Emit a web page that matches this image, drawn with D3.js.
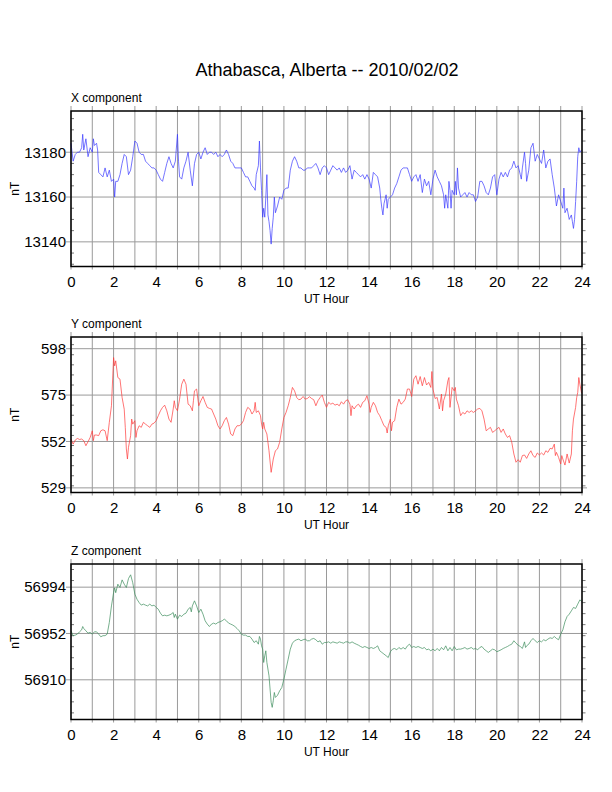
<!DOCTYPE html>
<html>
<head>
<meta charset="utf-8">
<script src="https://cdn.jsdelivr.net/npm/d3@7"></script>
<style>
  html, body { margin: 0; padding: 0; background: #fff; }
  svg { display: block; font-family: "Liberation Sans", Arial, Helvetica, sans-serif; }
</style>
</head>
<body>
<svg id="chart" width="612" height="792"></svg>
<script>
// ---------------- DATA ----------------
const chartTitle = "Athabasca, Alberta -- 2010/02/02";
const panelTitles = ["X component", "Y component", "Z component"];
const hourTicks = [0, 2, 4, 6, 8, 10, 12, 14, 16, 18, 20, 22, 24];
const hourGrid = d3.range(0, 25, 1);

const xDomain = [13129, 13198.4];
const yDomain = [526.7, 603.8];
const zDomain = [56874, 57015];

const xTicks = [13140, 13160, 13180];
const yTicks = [529, 552, 575, 598];
const zTicks = [56910, 56952, 56994];
const minorSteps = [5, 5, 10];

// [UT hour, nT]
const xComponent = [[0,13184],[0.1,13176],[0.2,13179],[0.3,13180],[0.4,13180],[0.5,13182],[0.55,13188],[0.6,13181],[0.7,13186],[0.8,13178],[0.9,13182],[1.0,13180],[1.05,13186],[1.1,13183],[1.2,13184],[1.25,13181],[1.3,13171],[1.4,13170],[1.5,13169],[1.6,13173],[1.7,13169],[1.8,13172],[1.9,13167],[2.0,13168],[2.05,13160],[2.1,13167],[2.2,13167],[2.3,13170],[2.4,13175],[2.5,13179],[2.6,13178],[2.7,13170],[2.8,13172],[2.9,13178],[3.0,13185],[3.1,13184],[3.2,13180],[3.3,13179],[3.4,13179],[3.5,13176],[3.6,13175],[3.7,13174],[3.8,13173],[3.9,13173],[4.0,13172],[4.1,13170],[4.2,13168],[4.3,13167],[4.4,13171],[4.5,13175],[4.6,13178],[4.7,13175],[4.8,13173],[4.9,13176],[5.0,13188],[5.05,13176],[5.1,13169],[5.2,13168],[5.3,13173],[5.4,13176],[5.5,13180],[5.6,13172],[5.7,13165],[5.8,13175],[5.9,13179],[6.0,13180],[6.1,13177],[6.2,13180],[6.3,13182],[6.4,13179],[6.5,13180],[6.6,13180],[6.7,13179],[6.8,13180],[6.9,13178],[7.0,13179],[7.1,13178],[7.2,13179],[7.3,13181],[7.4,13179],[7.5,13176],[7.6,13175],[7.7,13173],[7.8,13173],[7.9,13173],[8.0,13173],[8.1,13171],[8.2,13169],[8.3,13169],[8.4,13167],[8.5,13165],[8.6,13164],[8.65,13163],[8.7,13170],[8.8,13174],[8.85,13185],[8.9,13173],[8.95,13163],[9.0,13151],[9.05,13155],[9.1,13151],[9.15,13160],[9.2,13170],[9.25,13152],[9.3,13149],[9.35,13145],[9.4,13139],[9.45,13146],[9.5,13151],[9.55,13160],[9.6,13153],[9.7,13156],[9.8,13160],[9.9,13159],[10.0,13163],[10.1,13164],[10.2,13164],[10.3,13172],[10.4,13176],[10.5,13178],[10.6,13176],[10.7,13173],[10.8,13173],[10.9,13172],[11.0,13172],[11.1,13173],[11.2,13173],[11.3,13173],[11.4,13174],[11.5,13175],[11.6,13173],[11.7,13170],[11.8,13173],[11.9,13174],[12.0,13173],[12.1,13170],[12.2,13172],[12.3,13174],[12.4,13173],[12.5,13172],[12.6,13173],[12.7,13171],[12.8,13173],[12.9,13171],[13.0,13172],[13.1,13174],[13.2,13168],[13.3,13172],[13.4,13171],[13.5,13170],[13.6,13169],[13.7,13170],[13.8,13168],[13.9,13170],[14.0,13168],[14.1,13164],[14.2,13171],[14.3,13170],[14.4,13169],[14.5,13164],[14.55,13159],[14.6,13155],[14.65,13152],[14.7,13157],[14.8,13161],[14.85,13155],[14.9,13159],[15.0,13160],[15.1,13161],[15.2,13164],[15.3,13166],[15.4,13169],[15.5,13172],[15.6,13173],[15.7,13173],[15.8,13173],[15.9,13170],[16.0,13167],[16.1,13169],[16.2,13170],[16.3,13167],[16.4,13170],[16.5,13162],[16.6,13168],[16.7,13165],[16.8,13167],[16.9,13161],[17.0,13168],[17.1,13172],[17.2,13169],[17.3,13167],[17.4,13165],[17.5,13161],[17.55,13155],[17.6,13161],[17.7,13155],[17.75,13167],[17.8,13163],[17.85,13155],[17.9,13163],[18.0,13161],[18.05,13167],[18.1,13161],[18.15,13173],[18.2,13164],[18.3,13160],[18.4,13161],[18.5,13162],[18.6,13160],[18.7,13162],[18.8,13161],[18.9,13161],[19.0,13158],[19.1,13160],[19.2,13167],[19.3,13167],[19.4,13165],[19.5,13162],[19.6,13161],[19.7,13164],[19.8,13169],[19.9,13170],[20.0,13161],[20.1,13168],[20.2,13171],[20.3,13169],[20.4,13171],[20.5,13169],[20.6,13172],[20.7,13173],[20.8,13176],[20.9,13173],[21.0,13174],[21.1,13170],[21.15,13168],[21.2,13173],[21.3,13180],[21.35,13175],[21.4,13167],[21.5,13172],[21.6,13182],[21.7,13184],[21.8,13176],[21.9,13179],[22.0,13177],[22.1,13175],[22.2,13181],[22.3,13173],[22.4,13176],[22.5,13177],[22.6,13170],[22.7,13164],[22.8,13156],[22.9,13161],[23.0,13158],[23.1,13155],[23.15,13164],[23.2,13153],[23.3,13155],[23.4,13150],[23.5,13152],[23.55,13149],[23.6,13146],[23.65,13150],[23.7,13158],[23.75,13167],[23.8,13178],[23.85,13182],[23.9,13180],[23.98,13181]];

const yComponent = [[0,553.2],[0.1,550.7],[0.2,552.7],[0.3,553.5],[0.4,553],[0.5,553.2],[0.6,552.4],[0.7,549.9],[0.8,551.9],[0.9,554],[1.0,557.3],[1.05,552.4],[1.1,555.2],[1.2,555.2],[1.3,554.9],[1.4,557.3],[1.5,557.8],[1.6,557.3],[1.7,552.4],[1.8,561.5],[1.9,569.7],[2.0,593.6],[2.05,589.5],[2.1,592],[2.2,583.7],[2.3,582.9],[2.4,573.8],[2.5,568],[2.55,559],[2.6,548.3],[2.65,543.3],[2.7,549.1],[2.8,554.9],[2.85,563.1],[2.9,560.6],[3.0,562.3],[3.05,554],[3.1,557.3],[3.2,559.8],[3.3,559],[3.4,561.5],[3.5,560.6],[3.6,559.8],[3.7,559],[3.8,560.6],[3.9,561.1],[4.0,562.3],[4.1,564.8],[4.2,567.2],[4.3,568.9],[4.4,570],[4.5,567.2],[4.6,563.1],[4.7,561.5],[4.8,568.1],[4.85,572.2],[4.9,568.9],[5.0,567.2],[5.1,573],[5.2,580.4],[5.3,582.9],[5.4,580.4],[5.5,570.5],[5.6,569.7],[5.7,567.2],[5.75,572.2],[5.8,577.1],[5.9,578],[6.0,569.7],[6.1,572.2],[6.2,574.3],[6.3,571.4],[6.4,568.9],[6.5,568.4],[6.6,568.1],[6.7,565.6],[6.8,563.1],[6.9,559.8],[7.0,558.2],[7.1,559.8],[7.2,562.3],[7.3,563.9],[7.4,560.6],[7.5,555.7],[7.6,554.9],[7.7,558.2],[7.8,559.8],[7.9,559.8],[8.0,560.6],[8.1,562.3],[8.2,566.4],[8.3,568.9],[8.4,568.1],[8.5,565.6],[8.6,567.2],[8.65,571.4],[8.7,566.4],[8.8,567.2],[8.9,564.8],[8.95,560.6],[9.0,558.2],[9.05,561.5],[9.1,558.2],[9.2,555.7],[9.3,547.4],[9.4,536.7],[9.5,543.3],[9.6,547.4],[9.7,548.3],[9.8,551.6],[9.9,558.2],[10.0,563.9],[10.1,566.4],[10.2,569.7],[10.3,573.8],[10.4,578.8],[10.5,577.1],[10.6,573.8],[10.7,572.7],[10.8,573],[10.9,574.3],[11.0,573],[11.1,573.3],[11.2,574.2],[11.3,573.3],[11.4,572.7],[11.5,569.7],[11.6,572.2],[11.7,573.8],[11.8,575],[11.9,571.4],[12.0,568.9],[12.1,571.4],[12.2,570.5],[12.3,571],[12.4,570],[12.5,570.5],[12.6,569.7],[12.7,571.7],[12.8,570.5],[12.9,572.2],[13.0,572.7],[13.1,570.5],[13.15,564.8],[13.2,569.7],[13.3,568.1],[13.4,569.7],[13.5,570.5],[13.6,568.9],[13.7,571.4],[13.8,572.2],[13.9,574.7],[14.0,570.5],[14.05,566.4],[14.1,568.9],[14.2,571.4],[14.3,569.7],[14.4,566.4],[14.5,564.8],[14.6,562.3],[14.7,559.8],[14.8,559],[14.85,556.2],[14.9,559.8],[15.0,563.1],[15.05,557.3],[15.1,561.5],[15.2,562.3],[15.3,568.9],[15.4,573],[15.5,570.5],[15.6,571.4],[15.7,573],[15.8,578],[15.9,578],[16.0,574.3],[16.1,582.9],[16.2,584.6],[16.3,580.4],[16.4,584.2],[16.5,579.6],[16.6,583.7],[16.7,580],[16.8,581.3],[16.9,578.8],[16.95,586.7],[17.0,578],[17.1,573.3],[17.2,573.8],[17.3,568.1],[17.4,575.5],[17.45,567.2],[17.5,572.2],[17.6,575.5],[17.7,582.1],[17.75,583.7],[17.8,568.9],[17.9,578.8],[18.0,577.1],[18.05,578.8],[18.1,573],[18.2,569.7],[18.3,564.8],[18.4,566.4],[18.5,565.6],[18.6,567.2],[18.7,566.4],[18.8,567.2],[18.9,566.4],[19.0,567.2],[19.1,568.1],[19.2,568.4],[19.3,567.2],[19.4,563.1],[19.5,557.3],[19.6,558.2],[19.7,559],[19.8,556.5],[19.9,557.3],[20.0,558.2],[20.1,559],[20.2,556.5],[20.3,558.2],[20.4,555.7],[20.5,554],[20.6,554.9],[20.7,551.6],[20.8,545.8],[20.9,541.7],[21.0,543],[21.1,541.7],[21.2,545],[21.3,545.3],[21.4,543.6],[21.5,545.8],[21.6,547.4],[21.7,545],[21.8,544.1],[21.9,546.3],[22.0,545.3],[22.1,546.3],[22.2,545.3],[22.3,547.4],[22.4,546.6],[22.5,548.6],[22.6,548.3],[22.7,550.7],[22.75,545],[22.8,546.6],[22.9,544.1],[23.0,540.8],[23.05,545],[23.1,543.3],[23.2,540.3],[23.3,545.8],[23.4,541.3],[23.5,545.8],[23.55,557.3],[23.6,563.1],[23.7,568.9],[23.75,573.8],[23.8,576.3],[23.85,583.7],[23.9,580.4],[23.98,576]];

const zComponent = [[0,56954.4],[0.1,56950],[0.2,56950.5],[0.3,56951.4],[0.4,56953.5],[0.5,56955.3],[0.55,56958.3],[0.6,56956.5],[0.7,56954.4],[0.8,56952.3],[0.9,56953],[1.0,56951.4],[1.1,56953.5],[1.2,56953.5],[1.3,56951.4],[1.4,56949],[1.5,56950],[1.6,56950],[1.7,56951.4],[1.8,56962],[1.9,56977],[2.0,56989],[2.05,56993.4],[2.1,56989],[2.2,56996.7],[2.3,56993.7],[2.4,57000.6],[2.5,56996.7],[2.6,56993.7],[2.7,57001.8],[2.8,57005.2],[2.9,56998],[3.0,56987.6],[3.1,56983],[3.2,56980],[3.3,56977.7],[3.4,56978.6],[3.5,56977.7],[3.6,56977],[3.7,56978.6],[3.8,56977],[3.9,56977.7],[4.0,56975.6],[4.1,56974],[4.2,56970.4],[4.3,56968],[4.4,56968.6],[4.5,56968],[4.6,56968.6],[4.7,56969.5],[4.8,56971],[4.85,56966.5],[4.9,56969.5],[5.0,56965],[5.1,56968.6],[5.2,56967.4],[5.3,56969.5],[5.4,56970.4],[5.5,56974],[5.6,56975.6],[5.65,56971.6],[5.7,56977],[5.8,56981.6],[5.9,56977],[6.0,56971],[6.1,56974],[6.2,56969.5],[6.3,56963.5],[6.4,56960.5],[6.5,56958.3],[6.6,56960.5],[6.7,56961.4],[6.8,56960.5],[6.9,56962],[7.0,56962.6],[7.1,56963.5],[7.2,56965],[7.3,56963.5],[7.4,56961.4],[7.5,56960.5],[7.6,56959.6],[7.7,56958.3],[7.8,56956.5],[7.9,56954.4],[8.0,56951.4],[8.1,56950.5],[8.2,56950.5],[8.3,56949.3],[8.4,56949.3],[8.5,56946.9],[8.6,56943.8],[8.7,56945.4],[8.8,56942.3],[8.85,56949.3],[8.9,56946.9],[8.95,56940.8],[9.0,56937.8],[9.05,56925.7],[9.1,56931.8],[9.15,56936.3],[9.2,56925.7],[9.3,56913.6],[9.4,56889.5],[9.45,56885],[9.5,56891],[9.55,56898.5],[9.6,56894],[9.7,56896],[9.8,56900],[9.9,56903],[10.0,56910.6],[10.1,56919.7],[10.2,56928.7],[10.3,56937.8],[10.4,56943.2],[10.5,56945.4],[10.6,56946.3],[10.7,56946.9],[10.8,56945.4],[10.9,56946.3],[11.0,56946.9],[11.1,56945.4],[11.2,56945.4],[11.3,56946.9],[11.4,56947.5],[11.5,56946.3],[11.6,56944.4],[11.7,56945.4],[11.8,56942.3],[11.9,56943.8],[12.0,56943.8],[12.1,56944.4],[12.2,56943.2],[12.3,56944.4],[12.4,56943.8],[12.5,56943.2],[12.6,56944.4],[12.7,56943.8],[12.8,56943.2],[12.9,56944.4],[13.0,56944.4],[13.1,56943.2],[13.2,56944.4],[13.3,56943.2],[13.4,56942.3],[13.5,56941.4],[13.6,56940.2],[13.7,56939.3],[13.8,56940.2],[13.9,56939.3],[14.0,56938.4],[14.1,56939.3],[14.2,56938.4],[14.3,56939.3],[14.4,56940.8],[14.5,56936.3],[14.6,56934.8],[14.7,56933.3],[14.8,56931.8],[14.9,56930.2],[15.0,56935.4],[15.1,56937.8],[15.2,56938.4],[15.3,56937.2],[15.4,56939.3],[15.5,56937.8],[15.6,56939.3],[15.7,56937.8],[15.8,56940.8],[15.9,56942.3],[16.0,56939.3],[16.1,56940.2],[16.2,56939.3],[16.3,56940.2],[16.4,56939.3],[16.5,56938.4],[16.6,56939.3],[16.7,56937.2],[16.8,56937.8],[16.9,56936.3],[17.0,56937.8],[17.1,56936.3],[17.2,56938.4],[17.3,56936.3],[17.4,56939.3],[17.5,56937.2],[17.6,56940.8],[17.7,56936.3],[17.8,56939.3],[17.9,56936.3],[18.0,56940.2],[18.1,56937.2],[18.2,56937.8],[18.3,56937.8],[18.4,56938.4],[18.5,56939.3],[18.6,56937.8],[18.7,56938.4],[18.8,56939.3],[18.9,56937.8],[19.0,56938.4],[19.1,56937.2],[19.2,56939.3],[19.3,56940.2],[19.4,56937.8],[19.5,56936.3],[19.6,56934.8],[19.7,56936.3],[19.8,56937.8],[19.9,56937.2],[20.0,56935.4],[20.1,56936.3],[20.2,56937.2],[20.3,56938.4],[20.4,56939.3],[20.5,56940.2],[20.6,56941.4],[20.7,56942.3],[20.8,56945.4],[20.9,56943.2],[21.0,56941.4],[21.1,56940.2],[21.2,56938.4],[21.3,56944.4],[21.35,56939.3],[21.4,56940.8],[21.5,56942.3],[21.6,56945.4],[21.7,56947.5],[21.8,56945.4],[21.9,56943.8],[22.0,56945.4],[22.1,56944.4],[22.2,56946.3],[22.3,56945.4],[22.4,56946.9],[22.5,56948.1],[22.6,56947.5],[22.7,56949.3],[22.8,56947.5],[22.9,56946.3],[23.0,56951.4],[23.1,56955.3],[23.2,56962.6],[23.3,56967.4],[23.4,56969.5],[23.5,56972.5],[23.6,56975.6],[23.7,56974.7],[23.8,56978.6],[23.9,56982.5],[23.98,56981]];

const seriesColors = ["#3a3aff", "#ff3a3a", "#3c8c5c"];

// ---------------- LAYOUT ----------------
const svg = d3.select("#chart");
const left = 71, right = 582;
const panelTops = [111, 337, 564];
const panelHeight = 155.5;
const panels = [
  { data: xComponent, domain: xDomain, ticks: xTicks },
  { data: yComponent, domain: yDomain, ticks: yTicks },
  { data: zComponent, domain: zDomain, ticks: zTicks }
];

svg.append("text")
  .attr("x", 327).attr("y", 76)
  .attr("text-anchor", "middle")
  .attr("font-size", 18)
  .text(chartTitle);

const xScale = d3.scaleLinear().domain([0, 24]).range([left, right]);

panels.forEach((p, i) => {
  const top = panelTops[i], bottom = top + panelHeight;
  const yScale = d3.scaleLinear().domain(p.domain).range([bottom, top]);
  const g = svg.append("g");
  const grid = "#9a9a9a";

  // vertical grid (each hour), extending a little above/below the frame
  g.selectAll(".vg").data(hourGrid).join("line")
    .attr("x1", d => xScale(d)).attr("x2", d => xScale(d))
    .attr("y1", top - 5).attr("y2", bottom + 3)
    .attr("stroke", grid).attr("stroke-width", 1);

  // horizontal grid at labelled values, extending outside frame
  g.selectAll(".hg").data(p.ticks).join("line")
    .attr("x1", left - 5).attr("x2", right + 5)
    .attr("y1", d => yScale(d)).attr("y2", d => yScale(d))
    .attr("stroke", grid).attr("stroke-width", 1);

  // minor ticks
  const step = minorSteps[i];
  const minor = d3.range(Math.ceil(p.domain[0] / step) * step, p.domain[1], step)
    .filter(v => !p.ticks.includes(v));
  g.selectAll(".mtL").data(minor).join("line")
    .attr("x1", left).attr("x2", left + 3)
    .attr("y1", d => yScale(d)).attr("y2", d => yScale(d))
    .attr("stroke", "#777").attr("stroke-width", 1);
  g.selectAll(".mtR").data(minor).join("line")
    .attr("x1", right).attr("x2", right + 3.5)
    .attr("y1", d => yScale(d)).attr("y2", d => yScale(d))
    .attr("stroke", "#777").attr("stroke-width", 1);

  // data line
  const line = d3.line().x(d => xScale(d[0])).y(d => yScale(d[1]));
  g.append("path").datum(p.data)
    .attr("d", line)
    .attr("fill", "none")
    .attr("stroke", seriesColors[i])
    .attr("stroke-width", 0.7)
    .attr("stroke-linejoin", "round");

  // frame
  g.append("rect")
    .attr("x", left).attr("y", top)
    .attr("width", right - left).attr("height", panelHeight)
    .attr("fill", "none").attr("stroke", "#000").attr("stroke-width", 1.5);

  // x axis labels
  const xAxis = d3.axisBottom(xScale).tickValues(hourTicks).tickSize(0).tickPadding(10)
    .tickFormat(d3.format("d"));
  const xa = g.append("g").attr("transform", `translate(0,${bottom})`).call(xAxis);
  xa.select(".domain").remove();
  xa.selectAll("text").attr("font-size", 15).attr("font-family", "Liberation Sans, Arial, sans-serif").attr("fill", "#000");

  // y axis labels
  const yAxis = d3.axisLeft(yScale).tickValues(p.ticks).tickSize(0).tickPadding(5)
    .tickFormat(d3.format("d"));
  const ya = g.append("g").attr("transform", `translate(${left},0)`).call(yAxis);
  ya.select(".domain").remove();
  ya.selectAll("text").attr("font-size", 15).attr("font-family", "Liberation Sans, Arial, sans-serif").attr("fill", "#000");

  // texts
  g.append("text").attr("x", left).attr("y", top - 9)
    .attr("font-size", 12).text(panelTitles[i]);
  g.append("text").attr("x", (left + right) / 2).attr("y", bottom + 36)
    .attr("text-anchor", "middle").attr("font-size", 12).text("UT Hour");
  g.append("text")
    .attr("transform", `translate(19,${(top + bottom) / 2}) rotate(-90)`)
    .attr("text-anchor", "middle").attr("font-size", 12).text("nT");
});
</script>
</body>
</html>
